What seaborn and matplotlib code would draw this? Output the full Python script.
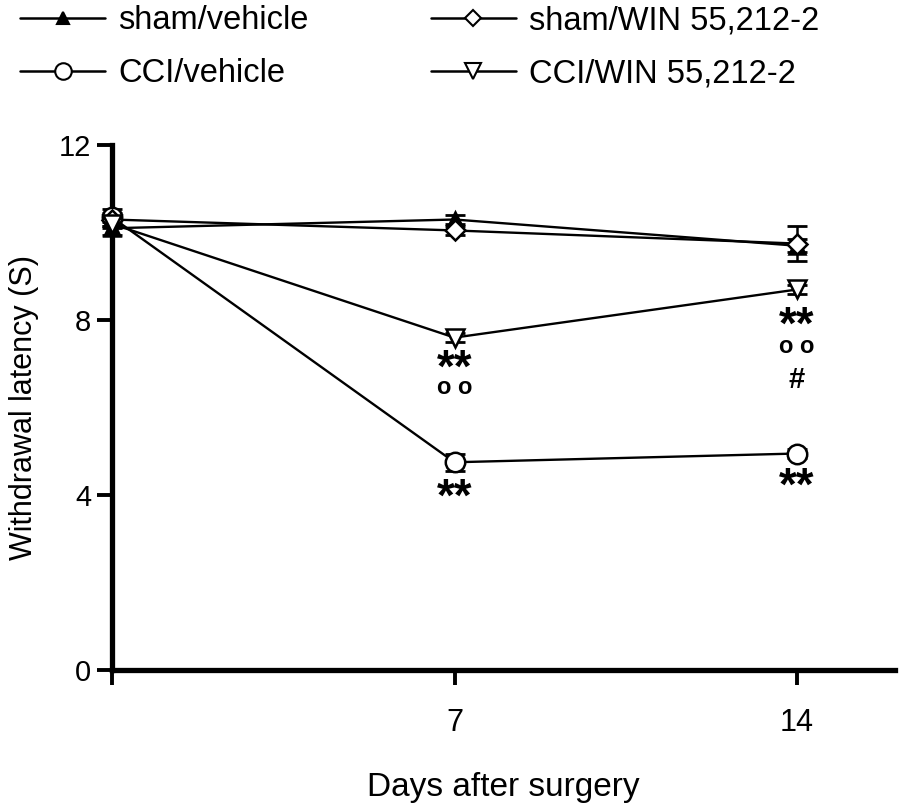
import numpy as np
import pandas as pd
import matplotlib
matplotlib.use('Agg')
import matplotlib.pyplot as plt
import seaborn as sns

# dados
dias = [0, 7, 14]
grupos = ['sham/vehicle', 'CCI/vehicle', 'sham/WIN 55,212-2', 'CCI/WIN 55,212-2']
media_sham_veh = [10.1, 10.3, 9.7]
media_cci_veh = [10.35, 4.75, 4.95]
media_sham_win = [10.3, 10.05, 9.75]
media_cci_win = [10.2, 7.6, 8.7]
erro_sham_veh = [0.15, 0.1, 0.15]
erro_cci_veh = [0.2, 0.2, 0.1]
erro_sham_win = [0.15, 0.1, 0.4]
erro_cci_win = [0.1, 0.1, 0.1]

marcadores = ['^', 'o', 'D', 'v']
preenchimento = ['black', 'white', 'white', 'white']
tamanhos = [11, 14, 10, 13]

# anotações de significância (dia, y, texto)
anot_dia = [7, 7, 7, 14, 14, 14, 14]
anot_y = [7.05, 6.45, 4.1, 8.05, 7.4, 6.63, 4.35]
anot_txt = ['**', 'o o', '**', '**', 'o o', '#', '**']

sns.set_style('white')
plt.rcParams['font.family'] = ['Liberation Sans', 'DejaVu Sans']
for k in ['text.color', 'axes.labelcolor', 'xtick.color', 'ytick.color', 'axes.edgecolor']:
    plt.rcParams[k] = 'black'

medias = [media_sham_veh, media_cci_veh, media_sham_win, media_cci_win]
erros = [erro_sham_veh, erro_cci_veh, erro_sham_win, erro_cci_win]

fig = plt.figure(figsize=(9, 8.1), dpi=100)
ax = fig.add_axes([0.1244, 0.1728, 0.87, 0.648])

handles = []
for g, m, e, mk, fc, ms in zip(grupos, medias, erros, marcadores, preenchimento, tamanhos):
    df = pd.DataFrame({'dia': dias, 'lat': m})
    sns.lineplot(data=df, x='dia', y='lat', ax=ax, color='black', linewidth=1.7,
                 marker=mk, markersize=ms, markerfacecolor=fc, markeredgecolor='black',
                 markeredgewidth=1.8, clip_on=False, zorder=3)
    ax.errorbar(dias, m, yerr=e, fmt='none', ecolor='black', elinewidth=1.8,
                capsize=7, capthick=2, clip_on=False, zorder=2)
    handles.append(plt.Line2D([], [], color='black', linewidth=1.8, marker=mk,
                              markersize=ms * 0.85, markerfacecolor=fc,
                              markeredgecolor='black', markeredgewidth=1.5))

for d, y, t in zip(anot_dia, anot_y, anot_txt):
    if t == '**':
        ax.annotate(t, (d, y), xytext=(0, -6), textcoords='offset points',
                    ha='center', va='center', fontsize=33, fontweight='bold')
    elif t == '#':
        ax.text(d, y, t, ha='center', va='center', fontsize=21, fontweight='bold')
    else:
        ax.text(d, y, t, ha='center', va='center', fontsize=17, fontweight='bold')

ax.set_xlim(0, 16)
ax.set_ylim(0, 12)
ax.set_xticks([0, 7, 14])
ax.set_xticklabels(['', '7', '14'], fontsize=22)
ax.set_yticks([0, 4, 8, 12])
ax.set_yticklabels(['0', '4', '8', '12'], fontsize=21)
ax.tick_params(axis='both', direction='out', length=11, width=2.8, color='black',
               bottom=True, left=True, pad=4)
ax.tick_params(axis='x', pad=16)
for s in ['top', 'right']:
    ax.spines[s].set_visible(False)
for s in ['left', 'bottom']:
    ax.spines[s].set_linewidth(3.8)
    ax.spines[s].set_color('black')

ax.set_xlabel('Days after surgery', fontsize=24, labelpad=25)
ax.set_ylabel('Withdrawal latency (S)', fontsize=22, labelpad=14)

fig.legend(handles, grupos, ncol=2, loc='upper left', bbox_to_anchor=(-0.003, 1.022),
           frameon=False, fontsize=23.5, handlelength=2.6, handletextpad=0.4,
           columnspacing=3.75, labelspacing=0.68, borderpad=0.2)

plt.savefig('out.png', dpi=100)
